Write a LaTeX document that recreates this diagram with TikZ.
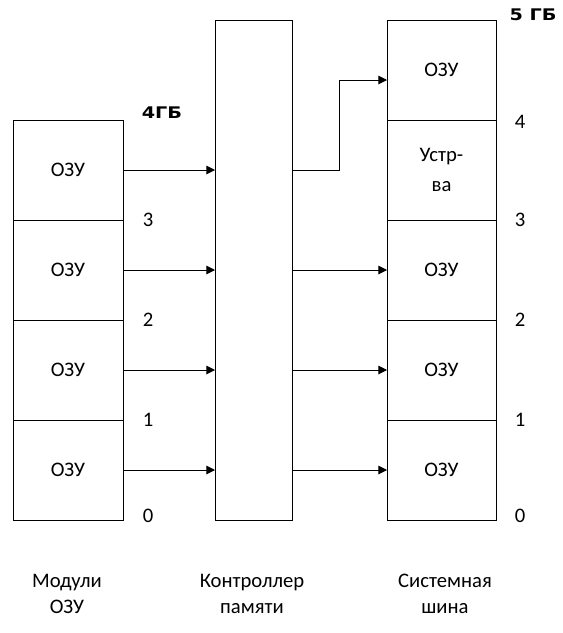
\documentclass[tikz,border=0pt]{standalone}
\usepackage{fontspec}
\setmainfont{Carlito}
\newfontfamily\boldfont[FakeStretch=1.2]{DejaVu Sans}
\usetikzlibrary{arrows.meta,positioning}

\tikzset{
  cell/.style={draw,line width=0.75pt,minimum width=82.5pt,minimum height=75pt,inner sep=0pt,outer sep=0pt,align=center},
  link/.style={line width=0.75pt,-{Triangle[length=6.5pt,width=6.5pt]}},
  addr/.style={anchor=center,inner sep=0pt},
}

\begin{document}
\begin{tikzpicture}[x=0.75pt,y=-0.75pt,font=\fontsize{15.5}{20}\selectfont]
  \useasboundingbox (0,0) rectangle (562,633);
  % modules
  \node[cell] (l4) at (68,170) {ОЗУ};
  \node[cell,below=0pt of l4] (l3) {ОЗУ};
  \node[cell,below=0pt of l3] (l2) {ОЗУ};
  \node[cell,below=0pt of l2] (l1) {ОЗУ};
  % controller
  \node[draw,line width=0.75pt,minimum width=57.75pt,minimum height=375pt,inner sep=0pt,outer sep=0pt] (ctrl) at (253.5,270) {};
  % system bus
  \node[cell,minimum width=81.75pt] (r5) at (441.5,70) {ОЗУ};
  \node[cell,minimum width=81.75pt,below=0pt of r5] (r4) {Устр-\\[2pt]ва};
  \node[cell,minimum width=81.75pt,below=0pt of r4] (r3) {ОЗУ};
  \node[cell,minimum width=81.75pt,below=0pt of r3] (r2) {ОЗУ};
  \node[cell,minimum width=81.75pt,below=0pt of r2] (r1) {ОЗУ};

  \foreach \i in {1,2,3,4}
    \draw[link] (l\i.east) -- (ctrl.west |- l\i.east);
  \foreach \i in {1,2,3}
    \draw[link] (ctrl.east |- r\i.west) -- (r\i.west);
  \draw[link] (ctrl.east |- l4.east) -- ++(47,0) |- ([yshift=-7.5pt]r5.west);

  % address marks
  \node[addr] (n3) at (148,220) {3};
  \node[addr] (n2) at (148,320) {2};
  \node[addr] (n1) at (148,420) {1};
  \node[addr] (n0) at (148,516) {0};
  \node[addr] (m4) at (520,122) {4};
  \node[addr] (m3) at (520,220) {3};
  \node[addr] (m2) at (520,320) {2};
  \node[addr] (m1) at (520,420) {1};
  \node[addr] (m0) at (520,516) {0};
  \node[addr,font=\boldfont\bfseries\fontsize{12}{14}\selectfont] (top4) at (162,113) {4ГБ};
  \node[addr,font=\boldfont\bfseries\fontsize{12}{14}\selectfont] (top5) at (533,15) {5 ГБ};

  % captions
  \node[align=center] (cap1) at (67,594) {Модули\\ОЗУ};
  \node[align=center] (cap2) at (252,594) {Контроллер\\памяти};
  \node[align=center] (cap3) at (445,594) {Системная\\шина};
\end{tikzpicture}
\end{document}
